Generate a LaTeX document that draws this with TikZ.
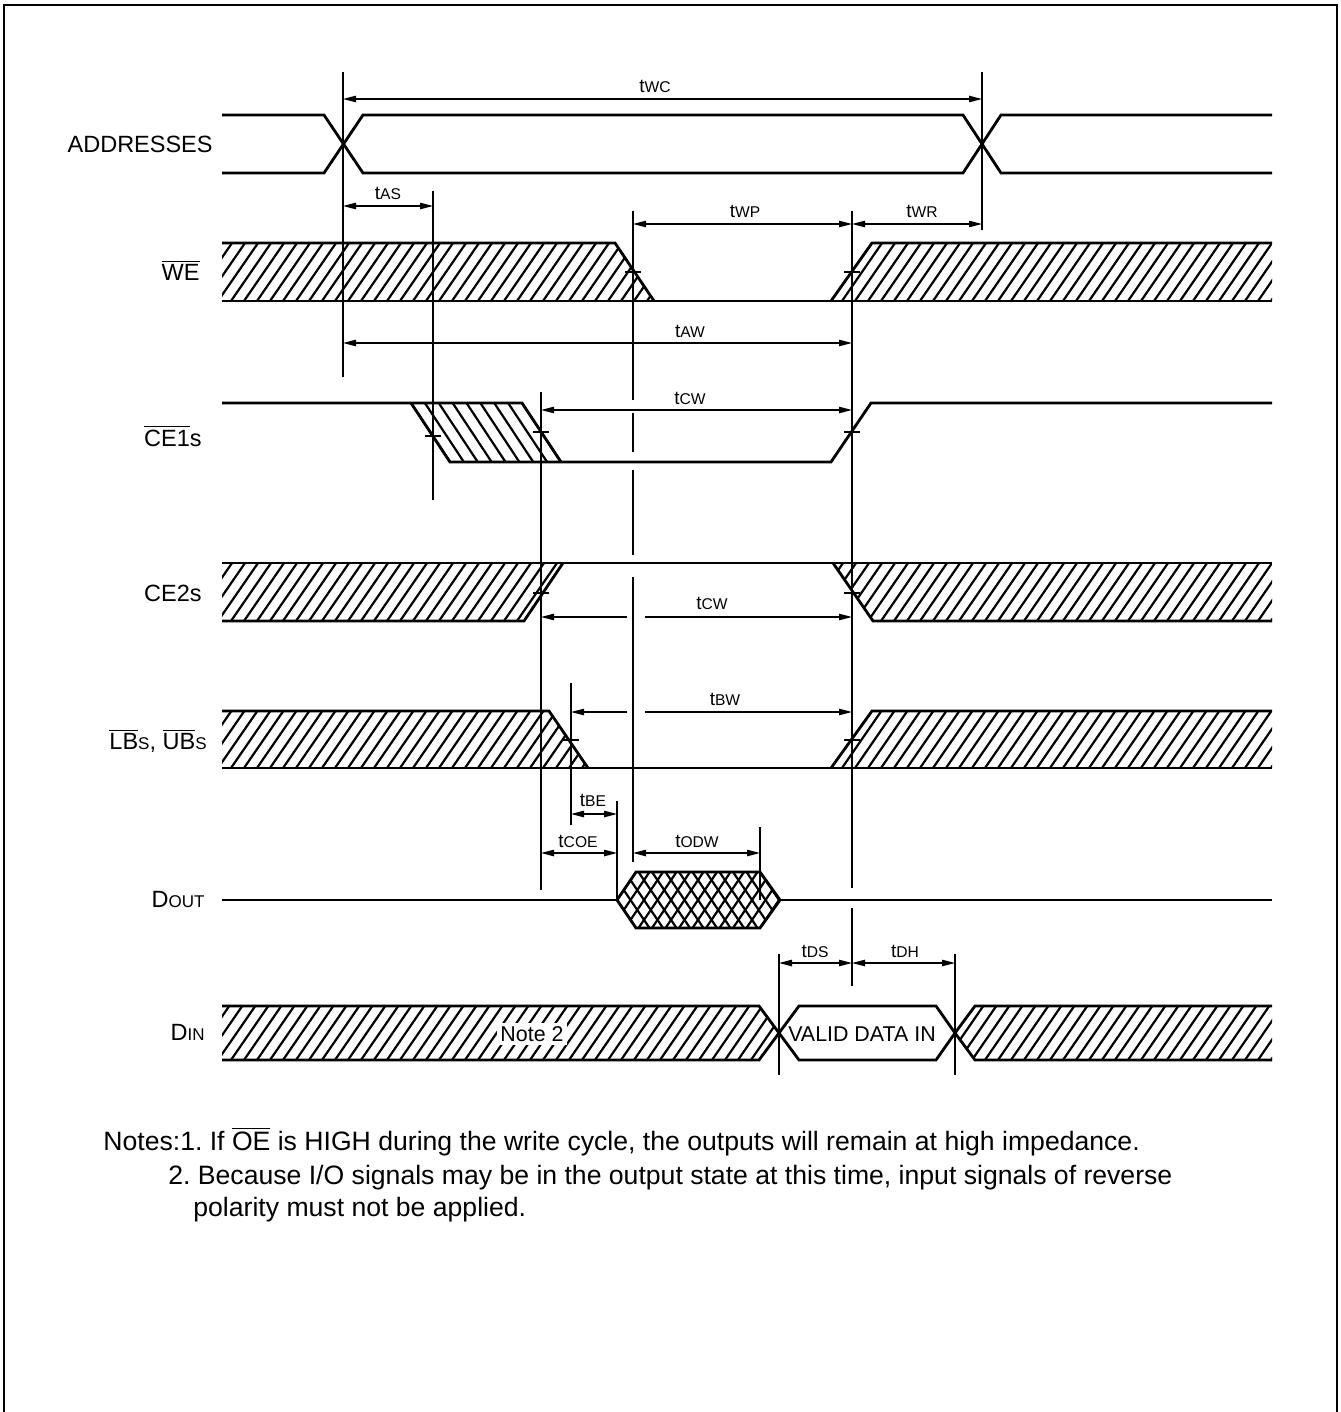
\documentclass[tikz,border=0pt]{standalone}
\usepackage{fontspec}
\setmainfont{Liberation Sans}
\frenchspacing
\usetikzlibrary{arrows.meta}
\tikzset{
 sig/.style={line width=1.4pt, line join=miter},
 hat/.style={line width=1.1pt},
 thinl/.style={line width=0.6pt},
 dim/.style={line width=0.6pt, {Triangle[length=6.5pt,width=3.2pt]}-{Triangle[length=6.5pt,width=3.2pt]}},
 dimr/.style={line width=0.6pt, -{Triangle[length=6.5pt,width=3.2pt]}},
 lab/.style={font=\fontsize{11.75}{14}\selectfont, anchor=base east, inner sep=0pt},
 tlabel/.style={anchor=base, inner sep=0pt},
 notetext/.style={font=\fontsize{13.3}{15}\selectfont, anchor=base west, inner sep=0pt},
}
\newcommand\tlab[1]{{\fontsize{9.5}{11}\selectfont t}{\fontsize{7.8}{9}\selectfont #1}}
\newcommand\ovl[1]{$\overline{\mbox{#1}}$}
\newcommand\hatchR[3]{%
 \begin{scope}
 \clip #1;
 \foreach \x in {140,153,...,1300}{\draw[hat] (\x,#3) -- ++({0.69*(#3-#2)},{#2-#3});}
 \end{scope}}
\begin{document}
\begin{tikzpicture}[x=0.5pt,y=-0.5pt]
\useasboundingbox (0,0) rectangle (1340,1412);
% frame
\draw[line width=0.8pt] (4,1412) -- (4,5) -- (1337,5) -- (1337,1412);

% ADDRESSES
\draw[sig] (222,115) -- (324,115) -- (363,173) -- (963,173) -- (1001,115) -- (1272,115);
\draw[sig] (222,173) -- (324,173) -- (363,115) -- (963,115) -- (1001,173) -- (1272,173);

% WE
\hatchR{(222,243) -- (615,243) -- (654,301) -- (222,301) -- cycle}{243}{301}
\hatchR{(831,301) -- (872,243) -- (1272,243) -- (1272,301) -- cycle}{243}{301}
\draw[sig] (222,243) -- (615,243) -- (654,301);
\draw[sig] (222,301) -- (1272,301);
\draw[sig] (831,301) -- (872,243) -- (1272,243);

% CE1s
\foreach \i in {0,...,8} \draw[hat] ({411+\i*13.875},403) -- ++(39,59);
\draw[sig] (222,403) -- (522,403) -- (561,462);
\draw[sig] (411,403) -- (450,462) -- (831,462) -- (871,403) -- (1272,403);

% CE2s
\hatchR{(222,563) -- (563,563) -- (524,621) -- (222,621) -- cycle}{563}{621}
\hatchR{(833,563) -- (1272,563) -- (1272,621) -- (873,621) -- cycle}{563}{621}
\draw[sig] (222,563) -- (1272,563);
\draw[sig] (222,621) -- (524,621) -- (563,563);
\draw[sig] (833,563) -- (873,621) -- (1272,621);

% LB UB
\hatchR{(222,711) -- (549,711) -- (588,768) -- (222,768) -- cycle}{711}{768}
\hatchR{(831,768) -- (872,711) -- (1272,711) -- (1272,768) -- cycle}{711}{768}
\draw[sig] (222,711) -- (549,711) -- (588,768);
\draw[sig] (222,768) -- (1272,768);
\draw[sig] (831,768) -- (872,711) -- (1272,711);

% DOUT
\begin{scope}
\clip (617,900) -- (636,872) -- (760,872) -- (780,900) -- (760,928) -- (636,928) -- cycle;
\foreach \k in {-4,...,16} {\draw[hat] ({598+\k*13.5},928) -- ++(38,-56); \draw[hat] ({598+\k*13.5},872) -- ++(38,56);}
\end{scope}
\draw[sig] (222,900) -- (617,900);
\draw[sig] (617,900) -- (636,872) -- (760,872) -- (780,900) -- (760,928) -- (636,928) -- cycle;
\draw[sig] (780,900) -- (1272,900);

% DIN
\hatchR{(222,1006) -- (759,1006) -- (779,1033) -- (759,1060) -- (222,1060) -- cycle}{1006}{1060}
\hatchR{(955,1033) -- (975,1006) -- (1272,1006) -- (1272,1060) -- (975,1060) -- cycle}{1006}{1060}
\draw[sig] (222,1006) -- (759,1006) -- (779,1033) -- (759,1060) -- (222,1060);
\draw[sig] (779,1033) -- (799,1006) -- (936,1006) -- (955,1033) -- (936,1060) -- (799,1060) -- cycle;
\draw[sig] (1272,1006) -- (975,1006) -- (955,1033) -- (975,1060) -- (1272,1060);
\node[fill=white, inner sep=1.5pt, font=\fontsize{10.7}{12}\selectfont] (note2) at (532,1034) {Note 2};
\node[inner sep=0pt, font=\fontsize{10.7}{12}\selectfont] (valid) at (862,1034) {VALID DATA IN};

% vertical reference lines
\draw[thinl] (343,72) -- (343,377);
\draw[thinl] (982,72) -- (982,230);
\draw[thinl] (433,191) -- (433,500);
\draw[thinl] (633,211) -- (633,400) (633,413) -- (633,452) (633,470) -- (633,555) (633,577) -- (633,862);
\draw[thinl] (852,211) -- (852,888) (852,908) -- (852,986);
\draw[thinl] (541,392) -- (541,890);
\draw[thinl] (571,683) -- (571,825);
\draw[thinl] (617,801) -- (617,900);
\draw[thinl] (760,827) -- (760,900);
\draw[thinl] (779,954) -- (779,1075);
\draw[thinl] (955,954) -- (955,1075);

% ticks
\foreach \p in {(633,272),(852,272),(433,436),(541,432),(852,432),(541,593),(852,593),(571,740),(852,740)}
 \draw[thinl] \p ++(-8,0) -- ++(16,0);

% dimension arrows
\draw[dim] (343,99) -- (982,99);
\draw[dim] (343,206) -- (433,206);
\draw[dim] (633,224) -- (852,224);
\draw[dim] (852,224) -- (982,224);
\draw[dim] (343,343) -- (852,343);
\draw[dim] (541,410) -- (852,410);
\draw[dimr] (627,617) -- (541,617);
\draw[dimr] (645,617) -- (852,617);
\draw[dimr] (627,712) -- (571,712);
\draw[dimr] (645,712) -- (852,712);
\draw[dim] (571,814) -- (617,814);
\draw[dim] (541,853) -- (617,853);
\draw[dim] (633,853) -- (760,853);
\draw[dim] (779,963) -- (852,963);
\draw[dim] (852,963) -- (955,963);

% timing labels
\node[tlabel] (twc) at (655,93) {\tlab{WC}};
\node[tlabel] (tas) at (388,200) {\tlab{AS}};
\node[tlabel] (twp) at (745,218) {\tlab{WP}};
\node[tlabel] (twr) at (922,218) {\tlab{WR}};
\node[tlabel] (taw) at (690,337) {\tlab{AW}};
\node[tlabel] (tcw1) at (690,404) {\tlab{CW}};
\node[tlabel] (tcw2) at (712,609) {\tlab{CW}};
\node[tlabel] (tbw) at (725,705) {\tlab{BW}};
\node[tlabel] (tbe) at (593,806) {\tlab{BE}};
\node[tlabel] (tcoe) at (578,847) {\tlab{COE}};
\node[tlabel] (todw) at (697,847) {\tlab{ODW}};
\node[tlabel] (tds) at (815,957) {\tlab{DS}};
\node[tlabel] (tdh) at (905,957) {\tlab{DH}};

% signal labels
\node[lab] (addr) at (213,153) {ADDRESSES};
\node[lab] (we) at (200,280) {\ovl{WE}};
\node[lab] (ce1) at (202,446) {\ovl{CE1}s};
\node[lab] (ce2) at (202,601) {CE2s};
\node[lab] (lbub) at (207,749) {\ovl{LB}{\fontsize{8.5}{10}\selectfont S}, \ovl{UB}{\fontsize{8.5}{10}\selectfont S}};
\node[lab] (dout) at (205,907) {D{\fontsize{8.5}{10}\selectfont OUT}};
\node[lab] (din) at (205,1040) {D{\fontsize{8.5}{10}\selectfont IN}};

% notes
\node[notetext] (n1) at (103,1150) {Notes:1. If \ovl{OE} is HIGH during the write cycle, the outputs will remain at high impedance.};
\node[notetext] (n2) at (168,1184) {2. Because I/O signals may be in the output state at this time, input signals of reverse};
\node[notetext] (n3) at (193,1216) {polarity must not be applied.};
\end{tikzpicture}
\end{document}
